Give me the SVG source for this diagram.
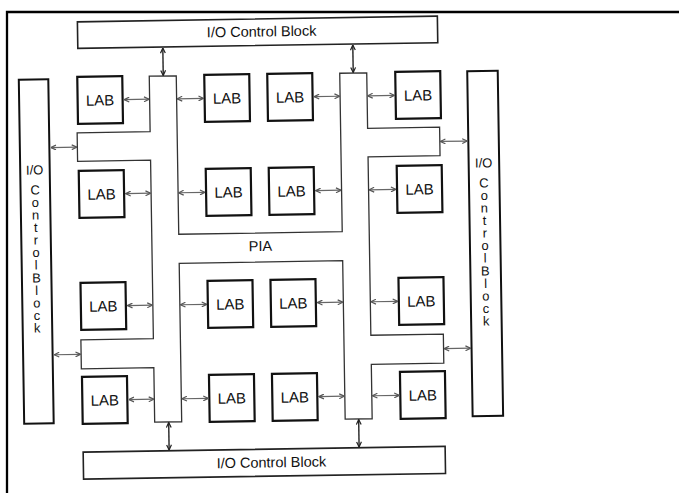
<svg xmlns="http://www.w3.org/2000/svg" width="679" height="493" viewBox="0 0 679 493">
<style>
  .lab { fill: #fff; stroke: #111; stroke-width: 2.2; }
  .labt { font-family: "Liberation Sans", Arial, sans-serif; font-size: 15px; fill: #111; text-anchor: middle; }
  .io { fill: #fff; stroke: #222; stroke-width: 1.6; }
  .iov { fill: #fff; stroke: #111; stroke-width: 2; }
  .iot { font-family: "Liberation Sans", Arial, sans-serif; font-size: 14.5px; fill: #111; text-anchor: middle; }
  .vh { font-family: "Liberation Sans", Arial, sans-serif; font-size: 13px; fill: #111; text-anchor: middle; }
  .vt { font-family: "Liberation Sans", Arial, sans-serif; font-size: 13px; fill: #111; writing-mode: vertical-rl; text-orientation: upright; letter-spacing: -2.5px; text-anchor: start; }
  .pia { fill: #fff; stroke: #333; stroke-width: 1.3; stroke-linejoin: miter; }
  .pt { font-family: "Liberation Sans", Arial, sans-serif; font-size: 14.5px; fill: #111; text-anchor: middle; }
  .ha { stroke: #666; stroke-width: 1.2; fill: none; marker-start: url(#ahg); marker-end: url(#ahg); }
  .va { stroke: #222; stroke-width: 1.4; fill: none; marker-start: url(#ahd); marker-end: url(#ahd); }
  .frame { stroke: #000; stroke-width: 2.3; fill: none; }
</style>
<defs>
  <marker id="ahg" viewBox="0 0 10 10" refX="9.5" refY="5" markerWidth="6" markerHeight="6" markerUnits="userSpaceOnUse" orient="auto-start-reverse">
    <path d="M1,1 L9.5,5 L1,9" fill="none" stroke="#555" stroke-width="2"/>
  </marker>
  <marker id="ahd" viewBox="0 0 10 10" refX="9.5" refY="5" markerWidth="6" markerHeight="6" markerUnits="userSpaceOnUse" orient="auto-start-reverse">
    <path d="M1,1 L9.5,5 L1,9" fill="none" stroke="#222" stroke-width="2"/>
  </marker>
</defs>
<rect width="679" height="493" fill="#fff"/>
<path class="frame" d="M7,493 L7,12 L679,12"/>
<g transform="rotate(-0.9 260 250)">
  <g id="pia">
    <polygon class="pia" points="152,74.5 179,74.5 179,233 342.5,233 342.5,74.5 369.5,74.5 369.5,130 441.5,130 441.5,158.5 369.5,158.5 369.5,337 442,337 442,366 369.5,366 369.5,420.5 342.5,420.5 342.5,262 179,262 179,420.5 152,420.5 152,366 79.5,366 79.5,337 152,337 152,158.5 79,158.5 79,130 152,130 Z"/>
    <text class="pt" x="260.5" y="251">PIA</text>
  </g>
  <g id="io-top">
    <rect class="io" x="81" y="19" width="360" height="26.5"/>
    <text class="iot" x="265" y="36.5">I/O Control Block</text>
  </g>
  <g id="io-bottom">
    <rect class="io" x="80" y="449.3" width="362" height="27"/>
    <text class="iot" x="268" y="467.5">I/O Control Block</text>
  </g>
  <g id="io-left">
    <rect class="iov" x="21.5" y="76" width="29.5" height="344"/>
    <text class="vh" x="36" y="171">I/O</text>
    <text class="vt" x="36" y="179">Control</text>
    <text class="vt" x="36" y="267">Block</text>
  </g>
  <g id="io-right">
    <rect class="iov" x="470" y="74.5" width="30.5" height="345"/>
    <text class="vh" x="485" y="171">I/O</text>
    <text class="vt" x="485" y="179">Control</text>
    <text class="vt" x="485" y="267">Block</text>
  </g>
  <g id="lab-r1c1"><rect class="lab" x="80" y="74" width="45" height="47"/><text class="labt" x="102.5" y="103">LAB</text></g>
  <g id="lab-r1c2"><rect class="lab" x="207" y="74" width="45" height="47"/><text class="labt" x="229.5" y="103">LAB</text></g>
  <g id="lab-r1c3"><rect class="lab" x="270" y="74" width="45" height="47"/><text class="labt" x="292.5" y="103">LAB</text></g>
  <g id="lab-r1c4"><rect class="lab" x="398" y="74" width="45" height="47"/><text class="labt" x="420.5" y="103">LAB</text></g>
  <g id="lab-r2c1"><rect class="lab" x="80" y="168" width="45" height="47"/><text class="labt" x="102.5" y="197">LAB</text></g>
  <g id="lab-r2c2"><rect class="lab" x="207" y="168" width="45" height="47"/><text class="labt" x="229.5" y="197">LAB</text></g>
  <g id="lab-r2c3"><rect class="lab" x="270" y="168" width="45" height="47"/><text class="labt" x="292.5" y="197">LAB</text></g>
  <g id="lab-r2c4"><rect class="lab" x="398" y="168" width="45" height="47"/><text class="labt" x="420.5" y="197">LAB</text></g>
  <g id="lab-r3c1"><rect class="lab" x="80" y="280" width="45" height="47"/><text class="labt" x="102.5" y="309">LAB</text></g>
  <g id="lab-r3c2"><rect class="lab" x="207" y="280" width="45" height="47"/><text class="labt" x="229.5" y="309">LAB</text></g>
  <g id="lab-r3c3"><rect class="lab" x="270" y="280" width="45" height="47"/><text class="labt" x="292.5" y="309">LAB</text></g>
  <g id="lab-r3c4"><rect class="lab" x="398" y="280" width="45" height="47"/><text class="labt" x="420.5" y="309">LAB</text></g>
  <g id="lab-r4c1"><rect class="lab" x="80" y="374" width="45" height="47"/><text class="labt" x="102.5" y="403">LAB</text></g>
  <g id="lab-r4c2"><rect class="lab" x="207" y="374" width="45" height="47"/><text class="labt" x="229.5" y="403">LAB</text></g>
  <g id="lab-r4c3"><rect class="lab" x="270" y="374" width="45" height="47"/><text class="labt" x="292.5" y="403">LAB</text></g>
  <g id="lab-r4c4"><rect class="lab" x="398" y="374" width="45" height="47"/><text class="labt" x="420.5" y="403">LAB</text></g>
  <g id="connectors">
    <line class="ha" x1="126.5" y1="97.5" x2="151.5" y2="97.5"/>
    <line class="ha" x1="179.5" y1="97.5" x2="206" y2="97.5"/>
    <line class="ha" x1="316.5" y1="97.5" x2="342" y2="97.5"/>
    <line class="ha" x1="370" y1="97.5" x2="397" y2="97.5"/>
    <line class="ha" x1="126.5" y1="191.5" x2="151.5" y2="191.5"/>
    <line class="ha" x1="179.5" y1="191.5" x2="206" y2="191.5"/>
    <line class="ha" x1="316.5" y1="191.5" x2="342" y2="191.5"/>
    <line class="ha" x1="370" y1="191.5" x2="397" y2="191.5"/>
    <line class="ha" x1="126.5" y1="303.5" x2="151.5" y2="303.5"/>
    <line class="ha" x1="179.5" y1="303.5" x2="206" y2="303.5"/>
    <line class="ha" x1="316.5" y1="303.5" x2="342" y2="303.5"/>
    <line class="ha" x1="370" y1="303.5" x2="397" y2="303.5"/>
    <line class="ha" x1="126.5" y1="397.5" x2="151.5" y2="397.5"/>
    <line class="ha" x1="179.5" y1="397.5" x2="206" y2="397.5"/>
    <line class="ha" x1="316.5" y1="397.5" x2="342" y2="397.5"/>
    <line class="ha" x1="370" y1="397.5" x2="397" y2="397.5"/>
    <line class="ha" x1="52.5" y1="144.3" x2="78.5" y2="144.3"/>
    <line class="ha" x1="52.5" y1="351.5" x2="79" y2="351.5"/>
    <line class="ha" x1="442" y1="144.3" x2="469" y2="144.3"/>
    <line class="ha" x1="442.5" y1="351.5" x2="469" y2="351.5"/>
    <line class="va" x1="166" y1="46.5" x2="166" y2="74"/>
    <line class="va" x1="356" y1="46.5" x2="356" y2="74"/>
    <line class="va" x1="166" y1="421" x2="166" y2="448.5"/>
    <line class="va" x1="356" y1="421" x2="356" y2="448.5"/>
  </g>
</g>
</svg>
